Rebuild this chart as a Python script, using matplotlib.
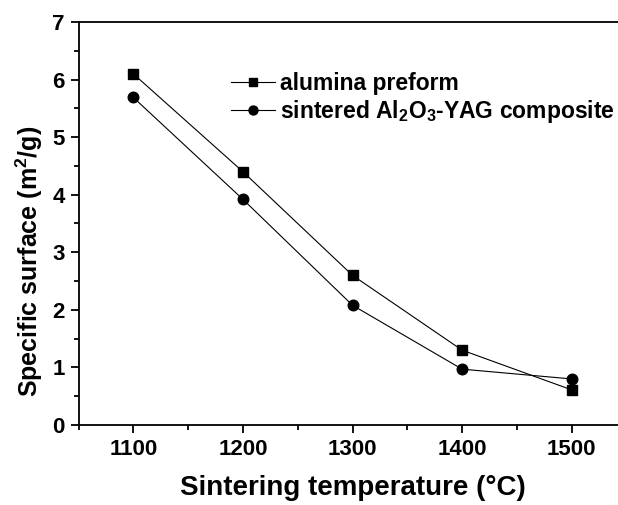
import matplotlib
matplotlib.use("Agg")
import matplotlib.pyplot as plt

plt.rcParams["font.family"] = ["Liberation Sans", "DejaVu Sans"]
plt.rcParams["font.weight"] = "bold"
plt.rcParams["mathtext.fontset"] = "custom"
plt.rcParams["mathtext.rm"] = "Liberation Sans:bold"
plt.rcParams["mathtext.bf"] = "Liberation Sans:bold"
plt.rcParams["mathtext.default"] = "bf"

temps = [1100, 1200, 1300, 1400, 1500]
preform = [6.1, 4.4, 2.6, 1.3, 0.61]
composite = [5.69, 3.92, 2.08, 0.97, 0.8]

fig = plt.figure(figsize=(6.18, 5.05), dpi=100)
ax = fig.add_axes([78.5 / 618, 80 / 505, 548 / 618, 403 / 505])

ax.plot(temps, preform, color="black", lw=0.8, marker="s", ms=7.2,
        label="alumina preform")
ax.plot(temps, composite, color="black", lw=0.8, marker="o", ms=7.6,
        label="sintered Al$_2$O$_3$-YAG composite")

ax.set_xlim(1050, 1550)
ax.set_ylim(0, 7)
ax.set_xticks([1100, 1200, 1300, 1400, 1500])
ax.set_xticks([1050, 1150, 1250, 1350, 1450, 1550], minor=True)
ax.set_yticks(range(0, 8))
ax.set_yticks([0.5, 1.5, 2.5, 3.5, 4.5, 5.5, 6.5], minor=True)

for s in ax.spines.values():
    s.set_linewidth(1.3)
ax.tick_params(which="major", direction="out", length=6, width=1.3,
               labelsize=16, pad=4)
ax.tick_params(which="minor", direction="out", length=3.5, width=1.3)
for lab in ax.get_xticklabels() + ax.get_yticklabels():
    lab.set_fontweight("bold")

ax.set_xlabel("Sintering temperature (°C)", fontsize=20, fontweight="bold",
              labelpad=11)
ax.set_ylabel("Specific surface (m$^2$/g)", fontsize=18, fontweight="bold")
ax.yaxis.set_label_coords(-0.062, 0.405)

leg = ax.legend(loc="upper left", bbox_to_anchor=(231 / 618, 1 - 72 / 505),
                bbox_transform=fig.transFigure, frameon=False, fontsize=16.5,
                handlelength=1.9, handletextpad=0.25, labelspacing=0.12,
                markerscale=0.85, borderpad=0, borderaxespad=0)
for t in leg.get_texts():
    t.set_fontweight("bold")

fig.savefig("out.png", dpi=100)
